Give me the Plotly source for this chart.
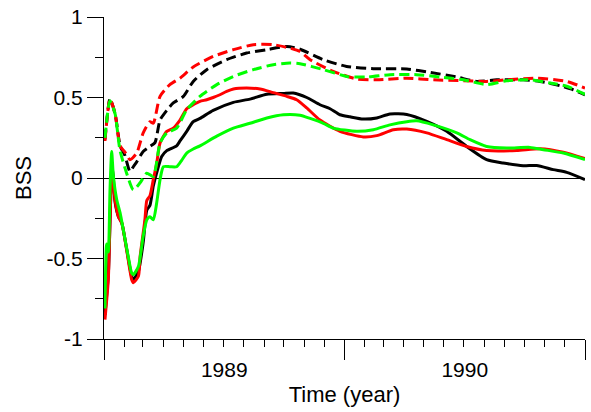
import numpy as np
import pandas as pd
import plotly.graph_objects as go

# Time is stored as years elapsed since 1 Jan 1989
t_black = [0.004, 0.018, 0.021, 0.029, 0.033, 0.039, 0.046, 0.060, 0.074, 0.094, 0.115, 0.122,
           0.143, 0.163, 0.178, 0.191, 0.205, 0.226, 0.240, 0.261, 0.302, 0.316, 0.344, 0.371,
           0.399, 0.454, 0.538, 0.607, 0.677, 0.746, 0.787, 0.843, 0.898, 0.940, 0.981, 1.023,
           1.078, 1.134, 1.189, 1.259, 1.342, 1.425, 1.508, 1.591, 1.660, 1.743, 1.799, 1.868,
           1.924, 2.000]
bss_black = [-0.85, -0.60, -0.48, -0.07, 0.08, 0.0, -0.15, -0.24, -0.28, -0.44, -0.61, -0.63,
             -0.58, -0.40, -0.20, -0.17, -0.05, 0.07, 0.134, 0.17, 0.20, 0.23, 0.29, 0.35,
             0.37, 0.42, 0.47, 0.49, 0.52, 0.525, 0.528, 0.50, 0.455, 0.43, 0.393, 0.38,
             0.366, 0.373, 0.398, 0.395, 0.352, 0.29, 0.196, 0.114, 0.093, 0.076, 0.078, 0.052,
             0.035, -0.01]

t_red = [0.004, 0.018, 0.021, 0.029, 0.035, 0.046, 0.060, 0.074, 0.094, 0.115, 0.122, 0.143,
         0.150, 0.170, 0.178, 0.191, 0.205, 0.219, 0.233, 0.261, 0.288, 0.316, 0.344, 0.371,
         0.399, 0.427, 0.454, 0.482, 0.510, 0.538, 0.593, 0.649, 0.704, 0.760, 0.801, 0.843,
         0.898, 0.981, 1.078, 1.134, 1.203, 1.259, 1.342, 1.425, 1.508, 1.591, 1.716, 1.813,
         1.910, 2.000]
bss_red = [-0.88, -0.63, -0.49, -0.07, 0.03, -0.135, -0.24, -0.28, -0.445, -0.63, -0.65, -0.61,
           -0.49, -0.26, -0.14, -0.11, -0.01, 0.09, 0.217, 0.29, 0.31, 0.36, 0.43, 0.455,
           0.476, 0.486, 0.50, 0.517, 0.538, 0.553, 0.559, 0.553, 0.53, 0.507, 0.486, 0.435,
           0.36, 0.29, 0.255, 0.263, 0.30, 0.304, 0.28, 0.238, 0.196, 0.171, 0.171, 0.182,
           0.16, 0.12]

t_green = [0.004, 0.011, 0.018, 0.025, 0.032, 0.039, 0.053, 0.067, 0.080, 0.101, 0.115, 0.122,
           0.143, 0.163, 0.178, 0.191, 0.205, 0.219, 0.233, 0.247, 0.274, 0.302, 0.323, 0.344,
           0.371, 0.399, 0.469, 0.538, 0.607, 0.677, 0.746, 0.815, 0.857, 0.912, 0.953, 1.051,
           1.120, 1.189, 1.259, 1.300, 1.369, 1.467, 1.522, 1.591, 1.674, 1.771, 1.827, 1.910,
           2.000]
bss_green = [-0.81, -0.41, -0.46, -0.07, 0.165, 0.01, -0.135, -0.217, -0.32, -0.49, -0.59, -0.60,
             -0.55, -0.36, -0.26, -0.24, -0.26, -0.155, -0.01, 0.07, 0.07, 0.07, 0.11, 0.155,
             0.18, 0.20, 0.26, 0.31, 0.34, 0.373, 0.393, 0.39, 0.37, 0.34, 0.31, 0.29,
             0.30, 0.33, 0.35, 0.355, 0.33, 0.28, 0.238, 0.196, 0.186, 0.19, 0.176, 0.155,
             0.114]

t_black_d = [0.004, 0.025, 0.046, 0.067, 0.087, 0.108, 0.122, 0.136, 0.163, 0.191, 0.212, 0.233,
             0.261, 0.288, 0.330, 0.371, 0.427, 0.510, 0.593, 0.677, 0.760, 0.815, 0.912, 1.009,
             1.120, 1.259, 1.356, 1.467, 1.550, 1.633, 1.743, 1.813, 1.896, 1.951, 2.000]
bss_black_d = [0.24, 0.49, 0.40, 0.20, 0.14, 0.04, 0.07, 0.10, 0.165, 0.196, 0.22, 0.36,
               0.42, 0.466, 0.507, 0.60, 0.673, 0.735, 0.776, 0.797, 0.817, 0.80, 0.735, 0.693,
               0.679, 0.677, 0.656, 0.627, 0.60, 0.61, 0.61, 0.60, 0.573, 0.548, 0.517]

t_red_d = [0.004, 0.025, 0.046, 0.067, 0.087, 0.108, 0.136, 0.163, 0.191, 0.205, 0.233, 0.274,
           0.316, 0.371, 0.454, 0.538, 0.621, 0.704, 0.773, 0.815, 0.857, 0.953, 1.051, 1.134,
           1.259, 1.369, 1.494, 1.591, 1.674, 1.799, 1.924, 2.000]
bss_red_d = [0.23, 0.49, 0.40, 0.20, 0.16, 0.114, 0.155, 0.28, 0.35, 0.34, 0.507, 0.58,
             0.62, 0.69, 0.755, 0.797, 0.828, 0.828, 0.807, 0.786, 0.735, 0.662, 0.615, 0.61,
             0.62, 0.61, 0.604, 0.60, 0.61, 0.62, 0.60, 0.559]

t_green_d = [0.004, 0.025, 0.046, 0.066, 0.094, 0.122, 0.150, 0.178, 0.205, 0.233, 0.261, 0.302,
             0.344, 0.399, 0.469, 0.538, 0.621, 0.704, 0.773, 0.815, 0.912, 1.009, 1.092, 1.189,
             1.300, 1.397, 1.494, 1.591, 1.674, 1.771, 1.854, 1.924, 2.000]
bss_green_d = [0.25, 0.48, 0.40, 0.176, 0.03, -0.073, -0.03, 0.03, 0.01, 0.217, 0.28, 0.31,
               0.424, 0.507, 0.58, 0.631, 0.673, 0.704, 0.714, 0.71, 0.673, 0.631, 0.627, 0.642,
               0.642, 0.627, 0.61, 0.58, 0.604, 0.61, 0.59, 0.57, 0.52]

START = pd.Timestamp("1989-01-01")


def to_dates(years):
    return START + pd.to_timedelta(np.asarray(years) * 365.0, unit="D")


series = [
    (t_black, bss_black, "#000000", "solid"),
    (t_red, bss_red, "#ff0000", "solid"),
    (t_green, bss_green, "#00ff00", "solid"),
    (t_black_d, bss_black_d, "#000000", "10px,5px"),
    (t_red_d, bss_red_d, "#ff0000", "10px,5px"),
    (t_green_d, bss_green_d, "#00ff00", "10px,5px"),
]

fig = go.Figure()
for t, v, color, dash in series:
    fig.add_trace(go.Scatter(
        x=to_dates(t), y=v, mode="lines",
        line=dict(color=color, width=3, dash=dash, shape="spline", smoothing=0.6),
        showlegend=False, hoverinfo="skip",
    ))

font = dict(family="Liberation Sans, Arial, sans-serif", size=21, color="#000000")

fig.update_layout(
    width=591, height=412,
    margin=dict(l=104, r=6, t=17, b=73),
    paper_bgcolor="white", plot_bgcolor="white",
    font=font,
)

fig.update_xaxes(
    type="date",
    range=["1989-01-01", "1991-01-01"],
    tick0="1989-01-01", dtick="M12",
    ticklabelmode="period", tickformat="%Y",
    ticks="outside", ticklen=20, tickwidth=1, tickcolor="#000000",
    ticklabelstandoff=-8,
    minor=dict(dtick="M1", ticks="outside", ticklen=7, tickwidth=1, tickcolor="#000000",
               showgrid=False),
    showline=True, linecolor="#000000", linewidth=1,
    showgrid=False, zeroline=False,
    title=dict(text="Time (year)", font=dict(size=22), standoff=6),
    tickfont=font,
)

fig.update_yaxes(
    range=[-1, 1],
    tickvals=[-1, -0.5, 0, 0.5, 1],
    ticktext=["-1", "-0.5", "0", "0.5", "1"],
    ticks="outside", ticklen=16, tickwidth=1, tickcolor="#000000",
    minor=dict(tickvals=[-0.75, -0.25, 0.25, 0.75], ticks="outside", ticklen=8,
               tickwidth=1, tickcolor="#000000", showgrid=False),
    showline=True, linecolor="#000000", linewidth=1,
    showgrid=False,
    zeroline=True, zerolinecolor="#000000", zerolinewidth=1,
    title=dict(text="BSS", font=dict(size=22), standoff=8),
    tickfont=font,
)

fig.write_html("out.html")
